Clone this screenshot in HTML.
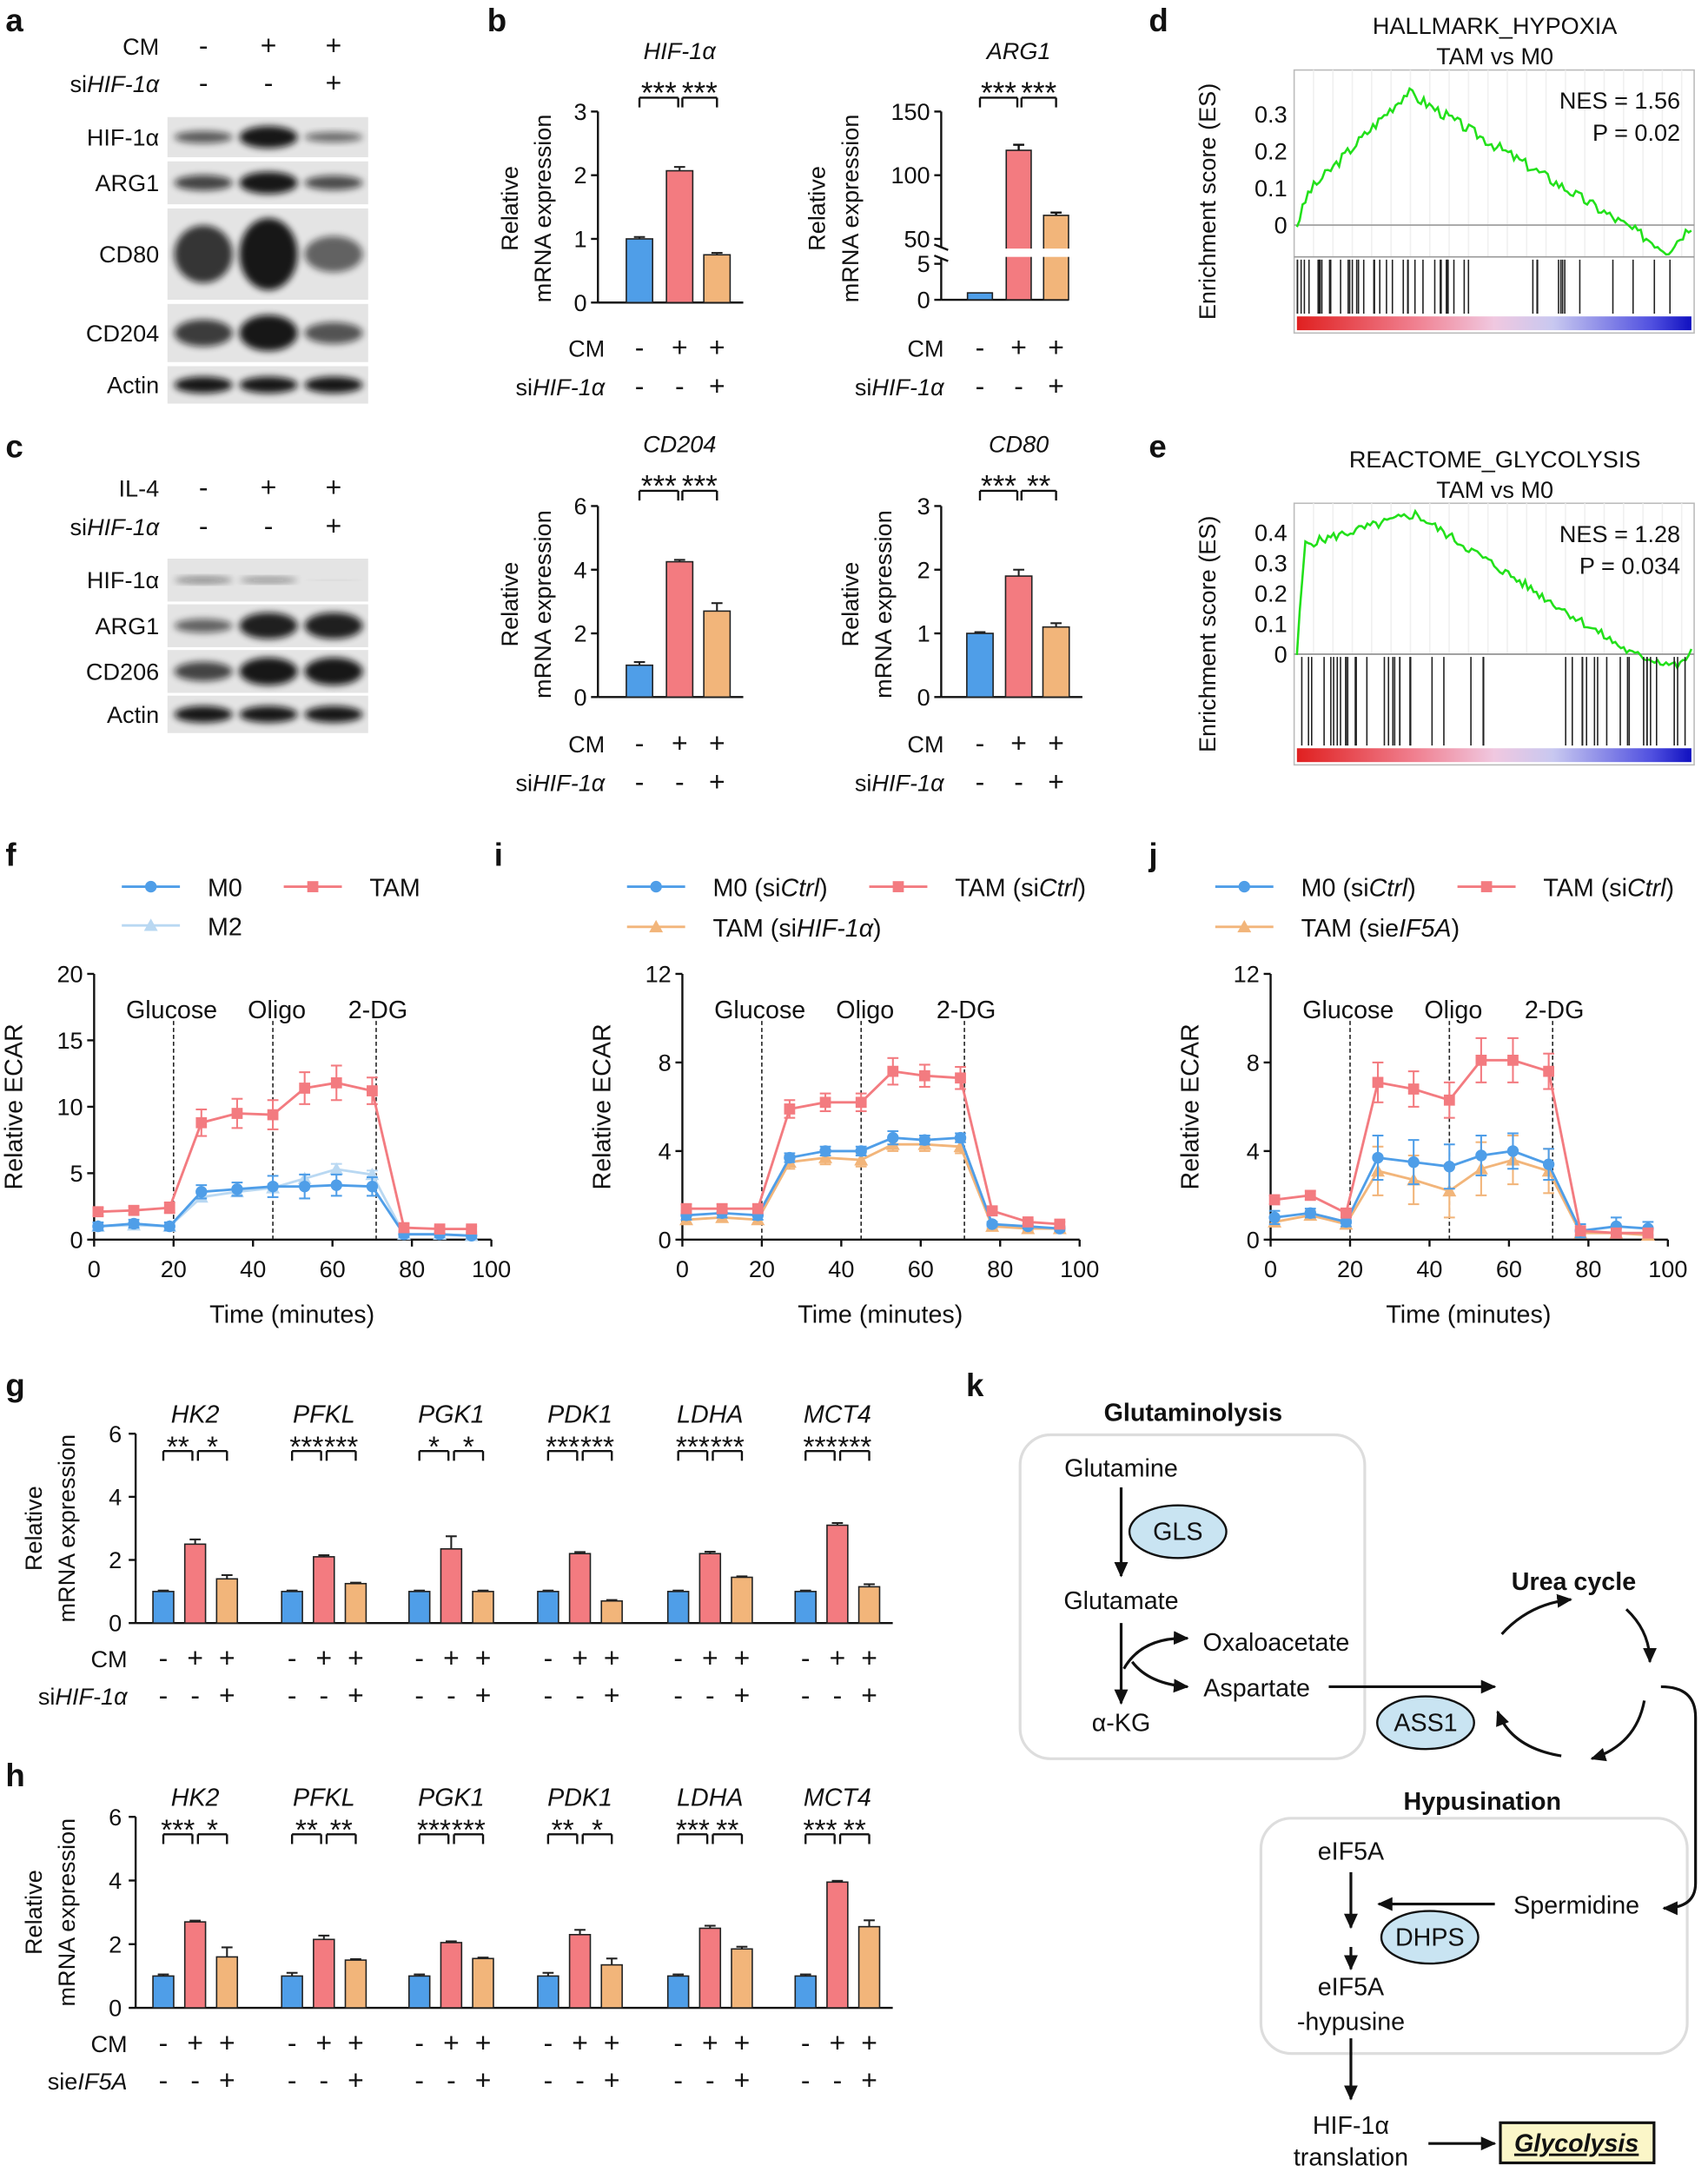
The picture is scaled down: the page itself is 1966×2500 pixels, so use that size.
<!DOCTYPE html>
<html><head><meta charset="utf-8"><style>
html,body{margin:0;padding:0;background:#fff}
svg{display:block}
text{font-family:"Liberation Sans",Arial,sans-serif;fill:#111}
</style></head><body>
<svg id="s" width="1966" height="2500" viewBox="0 0 1234 1568" xmlns="http://www.w3.org/2000/svg"></svg>
<script>
const S=document.getElementById('s');let h='';
const B='#4f9ee8',R='#f37b80',O='#f2b57a',LB='#b9d8f2';
h+=`<defs><filter id="bl" x="-20%" y="-50%" width="140%" height="200%"><feGaussianBlur stdDeviation="2.5"/></filter><marker id="ar" markerUnits="userSpaceOnUse" markerWidth="12" markerHeight="12" refX="10" refY="6" orient="auto"><path d="M0,1 L11,6 L0,11 z" fill="#111"/></marker></defs>`;
function T(x,y,t,o={}){h+=`<text x="${x}" y="${y}" font-size="${o.s||17}" text-anchor="${o.a||'start'}" ${o.b?'font-weight="bold"':''} ${o.i?'font-style="italic"':''} ${o.r?`transform="rotate(-90 ${x} ${y})"`:''}>${t}</text>`;}
function L(x1,y1,x2,y2,c='#111',w=1.5,d=''){h+=`<line x1="${x1}" y1="${y1}" x2="${x2}" y2="${y2}" stroke="${c}" stroke-width="${w}" ${d?`stroke-dasharray="${d}"`:''}/>`;}
[['a',4,22],['b',352,22],['d',830,22],['c',4,330],['e',830,330],['f',4,625],['i',357,625],['j',830,625],['g',4,1008],['k',698,1008],['h',4,1290]].forEach(p=>T(p[1],p[2],p[0],{s:23,b:1}));
const M='-';
T(115,39,'CM',{a:'end'});T(115,66,'si<tspan font-style="italic">HIF-1α</tspan>',{a:'end'});
[M,'+','+'].forEach((c,i)=>T(147+i*47,39,c,{a:'middle',s:20}));[M,M,'+'].forEach((c,i)=>T(147+i*47,66,c,{a:'middle',s:20}));
function blot(y,hh,lab,ints,bh){h+=`<rect x="121" y="${y}" width="145" height="${hh}" fill="#e4e4e4"/>`;T(115,y+hh/2+6,lab,{a:'end'});
ints.forEach((v,i)=>{h+=`<ellipse cx="${147+i*47}" cy="${y+hh/2}" rx="21" ry="${bh*v}" fill="#111" opacity="${0.25+0.7*v}" filter="url(#bl)"/>`;});}
blot(84,29,'HIF-1α',[0.55,1,0.45],8);blot(116,31,'ARG1',[0.7,1,0.65],8);blot(150,66,'CD80',[0.8,1,0.5],26);blot(219,42,'CD204',[0.75,1,0.6],13);blot(264,27,'Actin',[1,1,1],6);
T(115,358,'IL-4',{a:'end'});T(115,386,'si<tspan font-style="italic">HIF-1α</tspan>',{a:'end'});
[M,'+','+'].forEach((c,i)=>T(147+i*47,358,c,{a:'middle',s:20}));[M,M,'+'].forEach((c,i)=>T(147+i*47,386,c,{a:'middle',s:20}));
blot(403,31,'HIF-1α',[0.35,0.3,0.05],6);blot(436,31,'ARG1',[0.5,0.95,0.95],10);blot(469,31,'CD206',[0.7,1,1],10);blot(502,27,'Actin',[1,1,1],6);
function bars(ax,y0,ppu,ticks,tl,vals,errs,cx,bw){if(ticks.length){L(ax,y0,ax,y0-ticks[ticks.length-1]*ppu);L(ax,y0,cx[2]+bw,y0);}
ticks.forEach((t,i)=>{L(ax-5,y0-t*ppu,ax,y0-t*ppu);T(ax-8,y0-t*ppu+6,tl[i],{a:'end',s:17});});
vals.forEach((v,i)=>{const c=[B,R,O][i];h+=`<rect x="${cx[i]-bw/2}" y="${y0-v*ppu}" width="${bw}" height="${v*ppu}" fill="${c}" stroke="#222" stroke-width="1"/>`;L(cx[i],y0-v*ppu,cx[i],y0-(v+errs[i])*ppu,'#222',1.3);L(cx[i]-4,y0-(v+errs[i])*ppu,cx[i]+4,y0-(v+errs[i])*ppu,'#222',1.3);});}
function brk(x1,x2,y,st,fs){L(x1,y,x2,y,'#111',1.5);L(x1,y,x1,y+7);L(x2,y,x2,y+7);T((x1+x2)/2,y+4,st,{a:'middle',s:fs||22});}
function signs(cx,y1,y2,lab2,ax){T(ax,y1,'CM',{a:'end'});T(ax,y2,lab2,{a:'end'});[M,'+','+'].forEach((c,i)=>T(cx[i],y1,c,{a:'middle',s:20}));[M,M,'+'].forEach((c,i)=>T(cx[i],y2,c,{a:'middle',s:20}));}
function ylab(x,yc){T(x,yc,'Relative',{a:'middle',r:1});T(x+24,yc,'mRNA expression',{a:'middle',r:1});}
let cxA=[462,491,518],cxB=[708,736,763];
T(491,42,'HIF-1α',{a:'middle',i:1});ylab(374,150);
bars(432,218,46,[0,1,2,3],['0','1','2','3'],[1,2.07,0.75],[0.03,0.06,0.03],cxA,19);
brk(462,490,70,'***');brk(493,518,70,'***');signs(cxA,257,285,'si<tspan font-style="italic">HIF-1α</tspan>',437);
T(736,42,'ARG1',{a:'middle',i:1});ylab(596,150);
L(680,80,680,178);L(680,186,680,216);L(675,176,685,180);L(675,184,685,188);
[[80,'150'],[126,'100'],[172,'50'],[190,'5'],[216,'0']].forEach(t=>{L(675,t[0],680,t[0]);T(672,t[0]+6,t[1],{a:'end'});});L(680,216,772,216);
h+=`<rect x="699" y="211" width="18" height="5" fill="${B}" stroke="#222"/>`;
h+=`<rect x="727" y="108" width="18" height="108" fill="${R}" stroke="#222"/>`;L(736,108,736,104);L(732,104,740,104);
h+=`<rect x="754" y="155" width="18" height="61" fill="${O}" stroke="#222"/>`;L(763,155,763,153);L(759,153,767,153);
h+=`<rect x="690" y="179" width="90" height="6" fill="#fff"/>`;
brk(708,735,70,'***');brk(738,763,70,'***');signs(cxB,257,285,'si<tspan font-style="italic">HIF-1α</tspan>',682);
T(491,326,'CD204',{a:'middle',i:1});ylab(374,436);
bars(432,503,23,[0,2,4,6],['0','2','4','6'],[1,4.25,2.7],[0.1,0.06,0.25],cxA,19);
brk(462,490,354,'***');brk(493,518,354,'***');signs(cxA,543,571,'si<tspan font-style="italic">HIF-1α</tspan>',437);
T(736,326,'CD80',{a:'middle',i:1});ylab(620,436);
bars(680,503,46,[0,1,2,3],['0','1','2','3'],[1,1.9,1.1],[0.02,0.1,0.06],cxB,19);
brk(708,735,354,'***');brk(738,763,354,'**');signs(cxB,543,571,'si<tspan font-style="italic">HIF-1α</tspan>',682);
function rnd(seed){let s=seed;return()=>{s=(s*9301+49297)%233280;return s/233280;};}
function gsea(top,y0,ppt,ticks,pts,hitsTop,hitsBot,barY,t1,t2,nes,p,hitDens,seed){
 const x0=935,x1=1224;h+=`<rect x="${x0}" y="${top}" width="${x1-x0}" height="${barY+12-top}" fill="none" stroke="#bbb"/>`;
 for(let g=x0+14;g<x1;g+=14)L(g,top,g,hitsTop,'#f0f0f0',1);
 L(x0,hitsTop,x1,hitsTop,'#999',1);L(x0,y0,x1,y0,'#999',1);
 T(1080,top-26,t1,{a:'middle'});T(1080,top-4,t2,{a:'middle'});
 T(1214,top+28,nes,{a:'end'});T(1214,top+51,p,{a:'end'});
 ticks.forEach(t=>T(930,y0-t*ppt+6,t==0?'0':t.toFixed(1),{a:'end'}));
 T(878,(top+barY+12)/2,'Enrichment score (ES)',{a:'middle',r:1});
 const r=rnd(seed);let d='';const N=140;
 for(let i=0;i<=N;i++){const x=x0+2+(x1-x0-4)*i/N;let v=pts(i/N)+(r()-0.5)*0.03;d+=(i?'L':'M')+x.toFixed(1)+' '+(y0-v*ppt).toFixed(1);}
 h+=`<path d="${d}" fill="none" stroke="#22e01a" stroke-width="1.6"/>`;
 const r2=rnd(seed+7);for(let i=0;i<100;i++){const u=r2();if(r2()<hitDens(u)){const x=x0+2+u*(x1-x0-4);L(x,hitsTop+2,x,hitsBot,'#222',1);}}
 h+=`<defs><linearGradient id="g${seed}"><stop offset="0" stop-color="#e02020"/><stop offset="0.3" stop-color="#f08090"/><stop offset="0.5" stop-color="#f0c8e0"/><stop offset="0.65" stop-color="#c8c8f0"/><stop offset="0.9" stop-color="#5050e0"/><stop offset="1" stop-color="#1010c0"/></linearGradient></defs>`;
 h+=`<rect x="${x0+2}" y="${barY}" width="${x1-x0-4}" height="10" fill="url(#g${seed})"/>`;}
gsea(50,162,267,[0,0.1,0.2,0.3],u=>u<0.03?u*3:u<0.28?0.09+0.27*(u-0.03)/0.25:u<0.94?0.36-0.43*(u-0.28)/0.66:-0.07+0.07*(u-0.94)/0.06,185,226,228,'HALLMARK_HYPOXIA','TAM vs M0','NES = 1.56','P = 0.02',u=>u<0.45?0.8:u<0.6?0.15:0.3,3);
gsea(363,472,220,[0,0.1,0.2,0.3,0.4],u=>u<0.02?u*18:u<0.3?0.36+0.1*(u-0.02)/0.28:u<0.85?0.46-0.46*(u-0.3)/0.55:u<0.97?-0.04*(u-0.85)/0.12:-0.04+0.05*(u-0.97)/0.03,472,538,540,'REACTOME_GLYCOLYSIS','TAM vs M0','NES = 1.28','P = 0.034',u=>u<0.3?0.8:u<0.7?0.12:0.5,5);
const tt=[1,10,19,27,36,45,53,61,70,78,87,95];
function ecar(ax,ymax,yticks,series,leg){const y0=895,ppu=192/ymax,sx=2.87;
 L(ax,y0,ax,703);L(ax,y0,ax+287,y0);
 yticks.forEach(t=>{L(ax-5,y0-t*ppu,ax,y0-t*ppu);T(ax-8,y0-t*ppu+6,t,{a:'end',s:17});});
 [0,20,40,60,80,100].forEach(t=>{L(ax+t*sx,y0,ax+t*sx,y0+5);T(ax+t*sx,y0+27,t,{a:'middle'});});
 T(ax+143,955,'Time (minutes)',{a:'middle',s:18});T(ax-52,799,'Relative ECAR',{a:'middle',r:1,s:18});
 [20,45,71].forEach(g=>{L(ax+g*sx,y0,ax+g*sx,736,'#222',1,'3,2');});
 T(ax+56,735,'Glucose',{a:'middle',s:18});T(ax+132,735,'Oligo',{a:'middle',s:18});T(ax+205,735,'2-DG',{a:'middle',s:18});
 series.forEach(s=>{let d='';s.v.forEach((v,i)=>{d+=(i?'L':'M')+(ax+tt[i]*sx)+' '+(y0-v*ppu);});h+=`<path d="${d}" fill="none" stroke="${s.c}" stroke-width="1.8"/>`;
  s.v.forEach((v,i)=>{const x=ax+tt[i]*sx,y=y0-v*ppu,e=(s.e[i]||0)*ppu;if(e>1){L(x,y-e,x,y+e,s.c,1.3);L(x-4,y-e,x+4,y-e,s.c,1.3);L(x-4,y+e,x+4,y+e,s.c,1.3);}
  if(s.m=='s')h+=`<rect x="${x-4}" y="${y-4}" width="8" height="8" fill="${s.c}"/>`;else if(s.m=='c')h+=`<circle cx="${x}" cy="${y}" r="4.2" fill="${s.c}"/>`;else h+=`<polygon points="${x},${y-5} ${x+5},${y+4} ${x-5},${y+4}" fill="${s.c}"/>`;});});
 leg.forEach(l=>{L(l[0],l[1],l[0]+42,l[1],l[2],1.8);if(l[3]=='s')h+=`<rect x="${l[0]+17}" y="${l[1]-4}" width="8" height="8" fill="${l[2]}"/>`;else if(l[3]=='c')h+=`<circle cx="${l[0]+21}" cy="${l[1]}" r="4.2" fill="${l[2]}"/>`;else h+=`<polygon points="${l[0]+21},${l[1]-5} ${l[0]+26},${l[1]+4} ${l[0]+16},${l[1]+4}" fill="${l[2]}"/>`;T(l[0]+62,l[1]+7,l[4],{s:18});});}
ecar(68,20,[0,5,10,15,20],[
 {c:LB,m:'t',v:[1,1.1,1,3.2,3.6,3.9,4.6,5.3,4.9,0.4,0.4,0.3],e:[0.2,0.2,0.2,0.3,0.3,0.3,0.3,0.4,0.3,0.1,0.1,0.1]},
 {c:B,m:'c',v:[1,1.2,1,3.6,3.8,4,4,4.1,4,0.4,0.4,0.3],e:[0.3,0.3,0.3,0.5,0.5,0.8,0.9,0.8,0.7,0.2,0.2,0.2]},
 {c:R,m:'s',v:[2.1,2.2,2.4,8.8,9.5,9.4,11.4,11.8,11.2,0.9,0.8,0.8],e:[0.3,0.3,0.4,1,1.1,1.1,1.2,1.3,1,0.3,0.2,0.2]}],
 [[88,640,B,'c','M0'],[205,640,R,'s','TAM'],[88,668,LB,'t','M2']]);
const it='font-style="italic"';
ecar(493,12,[0,4,8,12],[
 {c:O,m:'t',v:[0.9,1,0.9,3.5,3.7,3.6,4.3,4.3,4.2,0.6,0.5,0.5],e:[0.2,0.2,0.2,0.3,0.3,0.3,0.3,0.3,0.3,0.1,0.1,0.1]},
 {c:B,m:'c',v:[1.1,1.2,1.1,3.7,4,4,4.6,4.5,4.6,0.7,0.6,0.5],e:[0.2,0.2,0.2,0.2,0.2,0.2,0.3,0.2,0.2,0.1,0.1,0.1]},
 {c:R,m:'s',v:[1.4,1.4,1.4,5.9,6.2,6.2,7.6,7.4,7.3,1.3,0.8,0.7],e:[0.2,0.2,0.2,0.4,0.4,0.4,0.6,0.5,0.5,0.1,0.1,0.1]}],
 [[453,640,B,'c',`M0 (si<tspan ${it}>Ctrl</tspan>)`],[628,640,R,'s',`TAM (si<tspan ${it}>Ctrl</tspan>)`],[453,669,O,'t',`TAM (si<tspan ${it}>HIF-1α</tspan>)`]]);
ecar(918,12,[0,4,8,12],[
 {c:O,m:'t',v:[0.8,1.1,0.7,3.1,2.7,2.2,3.2,3.6,3.1,0.3,0.3,0.2],e:[0.2,0.2,0.2,1.1,1.1,1.2,1.2,1.1,1,0.2,0.2,0.2]},
 {c:B,m:'c',v:[1,1.2,0.8,3.7,3.5,3.3,3.8,4,3.4,0.4,0.6,0.5],e:[0.3,0.2,0.2,1,1,1,0.9,0.8,0.7,0.3,0.4,0.3]},
 {c:R,m:'s',v:[1.8,2,1.2,7.1,6.8,6.3,8.1,8.1,7.6,0.4,0.3,0.3],e:[0.2,0.2,0.2,0.9,0.8,0.8,1,1,0.8,0.2,0.2,0.2]}],
 [[878,640,B,'c',`M0 (si<tspan ${it}>Ctrl</tspan>)`],[1053,640,R,'s',`TAM (si<tspan ${it}>Ctrl</tspan>)`],[878,669,O,'t',`TAM (sie<tspan ${it}>IF5A</tspan>)`]]);
const genes=['HK2','PFKL','PGK1','PDK1','LDHA','MCT4'],gc=[118,211,303,396,490,582];
function multi(y0,ppu,vals,errs,stars,lab2){L(98,y0,98,y0-6*ppu);L(98,y0,645,y0);
 [0,2,4,6].forEach(t=>{L(93,y0-t*ppu,98,y0-t*ppu);T(88,y0-t*ppu+6,t,{a:'end'});});
 T(30,y0-3*ppu,'Relative',{a:'middle',r:1});T(54,y0-3*ppu,'mRNA expression',{a:'middle',r:1});
 genes.forEach((g,k)=>{const cx=[gc[k],gc[k]+23,gc[k]+46];T(gc[k]+23,y0-6*ppu-8,g,{a:'middle',i:1,s:18});
  bars(98,y0,ppu,[],[],vals[k],errs[k],cx,15);
  brk(cx[0],cx[1]-2,y0-5.45*ppu,stars[k][0],21);brk(cx[1]+2,cx[2],y0-5.45*ppu,stars[k][1],21);
  [M,'+','+'].forEach((c,i)=>T(cx[i],y0+32,c,{a:'middle',s:20}));[M,M,'+'].forEach((c,i)=>T(cx[i],y0+59,c,{a:'middle',s:20}));});
 T(92,y0+32,'CM',{a:'end'});T(92,y0+59,lab2,{a:'end'});}
multi(1172,22.8,[[1,2.5,1.4],[1,2.1,1.25],[1,2.35,1],[1,2.2,0.7],[1,2.2,1.45],[1,3.1,1.15]],[[0.03,0.15,0.12],[0.03,0.05,0.03],[0.03,0.4,0.03],[0.03,0.05,0.03],[0.03,0.06,0.03],[0.03,0.07,0.08]],[['**','*'],['***','***'],['*','*'],['***','***'],['***','***'],['***','***']],'si<tspan font-style="italic">HIF-1α</tspan>');
multi(1450,23,[[1,2.7,1.6],[1,2.15,1.5],[1,2.05,1.55],[1,2.3,1.35],[1,2.5,1.85],[1,3.95,2.55]],[[0.05,0.04,0.3],[0.1,0.12,0.03],[0.05,0.04,0.03],[0.1,0.15,0.2],[0.05,0.08,0.07],[0.05,0.04,0.2]],[['***','*'],['**','**'],['***','***'],['**','*'],['***','**'],['***','**']],'sie<tspan font-style="italic">IF5A</tspan>');
const A=(d)=>h+=`<path d="${d}" fill="none" stroke="#111" stroke-width="2" marker-end="url(#ar)"/>`;
h+=`<rect x="737" y="1036" width="249" height="234" rx="22" fill="none" stroke="#ddd" stroke-width="2"/>`;
h+=`<rect x="911" y="1313" width="308" height="170" rx="22" fill="none" stroke="#ddd" stroke-width="2"/>`;
T(862,1026,'Glutaminolysis',{a:'middle',b:1,s:18});T(1137,1148,'Urea cycle',{a:'middle',b:1,s:18});T(1071,1307,'Hypusination',{a:'middle',b:1,s:18});
T(810,1066,'Glutamine',{a:'middle',s:18});T(810,1162,'Glutamate',{a:'middle',s:18});T(922,1192,'Oxaloacetate',{a:'middle',s:18});T(908,1225,'Aspartate',{a:'middle',s:18});T(810,1250,'α-KG',{a:'middle',s:18});
T(976,1343,'eIF5A',{a:'middle',s:18});T(1139,1382,'Spermidine',{a:'middle',s:18});T(976,1441,'eIF5A',{a:'middle',s:18});T(976,1466,'-hypusine',{a:'middle',s:18});
T(976,1541,'HIF-1α',{a:'middle',s:18});T(976,1564,'translation',{a:'middle',s:18});
h+=`<rect x="1084" y="1533" width="111" height="29" fill="#fbf6c8" stroke="#111" stroke-width="2"/>`;T(1139,1554,'<tspan text-decoration="underline">Glycolysis</tspan>',{a:'middle',b:1,i:1,s:18});
[[851,1106,'GLS'],[1030,1244,'ASS1'],[1033,1399,'DHPS']].forEach(e=>{h+=`<ellipse cx="${e[0]}" cy="${e[1]}" rx="35" ry="19" fill="#c9e4f2" stroke="#111" stroke-width="1.5"/>`;T(e[0],e[1]+6,e[2],{a:'middle',s:18});});
A('M810 1074 L810 1138');A('M810 1172 L810 1230');A('M812 1205 Q825 1182 858 1183');A('M818 1200 Q830 1216 858 1218');
A('M960 1218 L1080 1218');
A('M1085 1180 Q1105 1158 1135 1155');A('M1175 1162 Q1192 1178 1192 1200');A('M1188 1228 Q1182 1260 1150 1270');A('M1128 1268 Q1092 1262 1082 1236');
A('M1200 1218 Q1225 1218 1225 1240 L1225 1360 Q1225 1378 1202 1378');
A('M1080 1375 L996 1375');A('M976 1352 L976 1392');A('M976 1406 L976 1422');A('M976 1472 L976 1516');A('M1032 1548 L1080 1548');
S.innerHTML=h;
</script>
</body></html>
